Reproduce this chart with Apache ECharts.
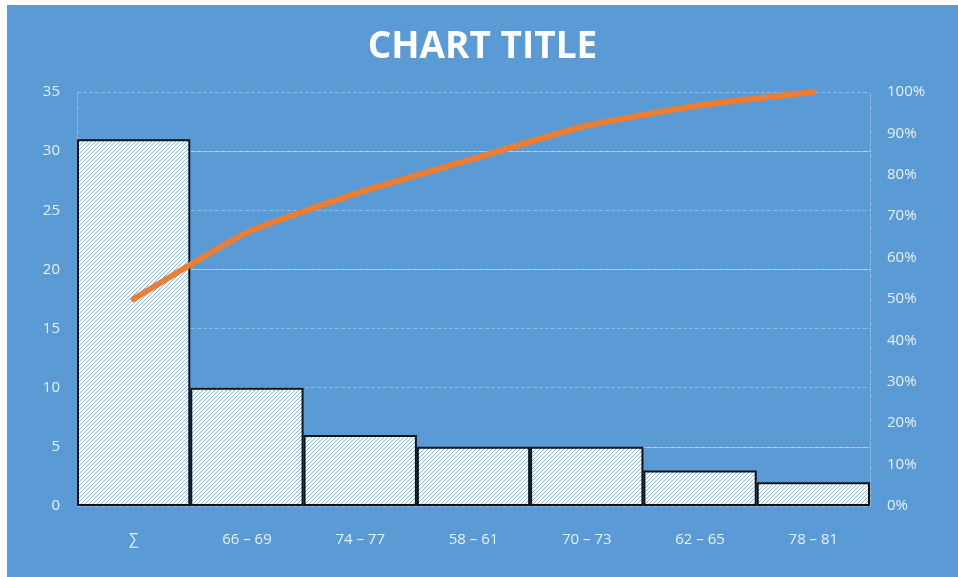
<!DOCTYPE html>
<html>
<head>
<meta charset="utf-8">
<script src="https://cdn.jsdelivr.net/npm/echarts@6/dist/echarts.min.js"></script>
<style>
  html, body { margin: 0; padding: 0; background: #fff; }
  #chart { position: absolute; left: 7px; top: 5px; width: 951px; height: 572px; background: #5b9bd5; }
</style>
</head>
<body>
<div id="chart"></div>
<script>
// data
const categories = ['∑', '66 – 69', '74 – 77', '58 – 61', '70 – 73', '62 – 65', '78 – 81'];
const counts = [31, 10, 6, 5, 5, 3, 2];
const cumulativePct = [50, 66.1, 75.8, 83.9, 91.9, 96.8, 100];
const solidGridAt = [5, 20, 30];

const BLUE = '#5b9bd5';
const LABEL = 'rgba(255,255,255,0.85)';
const GRID = 'rgba(255,255,255,0.32)';

// hatched fill for the bars, drawn pixel by pixel so it stays crisp
function hatch() {
    const s = 4;
    const c = document.createElement('canvas');
    c.width = s; c.height = s;
    const ctx = c.getContext('2d');
    for (let x = 0; x < s; x++) {
        for (let y = 0; y < s; y++) {
            ctx.fillStyle = (x + y) % s === 0 ? '#86b5e1' : '#ffffff';
            ctx.fillRect(x, y, 1, 1);
        }
    }
    return c;
}

const chart = echarts.init(document.getElementById('chart'));
chart.setOption({
    backgroundColor: BLUE,
    title: {
        text: 'CHART TITLE',
        left: 'center',
        top: 19,
        textStyle: { color: '#fff', fontFamily: 'Open Sans', fontWeight: 'bold', fontSize: 37 }
    },
    grid: { left: 70, right: 88, top: 87, bottom: 71 },
    xAxis: {
        type: 'category',
        data: categories,
        axisLine: { show: false },
        axisTick: { show: false },
        axisLabel: { color: LABEL, fontFamily: 'Open Sans', fontSize: 15, margin: 26 }
    },
    yAxis: [{
        type: 'value',
        min: 0, max: 35, interval: 5,
        axisLine: { show: true, lineStyle: { color: GRID, type: 'dashed' } },
        axisTick: { show: false },
        axisLabel: { color: LABEL, fontFamily: 'Open Sans', fontSize: 15, margin: 17 },
        splitLine: { lineStyle: { color: GRID, type: 'dashed' } }
    }, {
        type: 'value',
        min: 0, max: 100, interval: 10,
        axisLine: { show: true, lineStyle: { color: GRID, type: 'dashed' } },
        axisTick: { show: false },
        axisLabel: { color: LABEL, fontFamily: 'Open Sans', fontSize: 15, margin: 17, formatter: '{value}%' },
        splitLine: { show: false }
    }],
    series: [{
        type: 'bar',
        data: counts,
        barCategoryGap: '0%',
        itemStyle: {
            color: { image: hatch(), repeat: 'repeat' },
            borderColor: '#111',
            borderWidth: 2
        },
        markLine: {
            silent: true,
            symbol: 'none',
            label: { show: false },
            lineStyle: { color: GRID, type: 'solid', width: 1 },
            z: 1,
            data: solidGridAt.map(v => ({ yAxis: v }))
        }
    }, {
        type: 'line',
        yAxisIndex: 1,
        data: cumulativePct,
        symbol: 'none',
        smooth: 0.15,
        lineStyle: { color: '#ed7d31', width: 6, cap: 'round' },
        z: 5
    }]
});
</script>
</body>
</html>
